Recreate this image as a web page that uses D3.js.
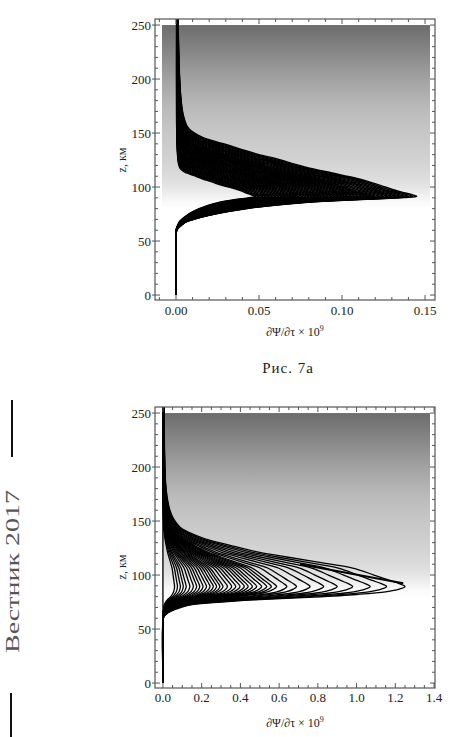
<!DOCTYPE html>
<html><head><meta charset="utf-8">
<script src="https://cdn.jsdelivr.net/npm/d3@7/dist/d3.min.js"></script>
<style>body{margin:0;background:#fff}svg{display:block}</style>
</head><body>
<script>
// ---------- data ----------
const zTicks = [0, 50, 100, 150, 200, 250];
const zMinor = [10,20,30,40,60,70,80,90,110,120,130,140,160,170,180,190,210,220,230,240];
const xTicks1 = [0, 0.05, 0.10, 0.15];
const xTickLabels1 = ["0.00", "0.05", "0.10", "0.15"];
const xMinor1 = [-0.01,0.01,0.02,0.03,0.04,0.06,0.07,0.08,0.09,0.11,0.12,0.13,0.14];
const xTicks2 = [0, 0.2, 0.4, 0.6, 0.8, 1.0, 1.2, 1.4];
const xTickLabels2 = ["0.0", "0.2", "0.4", "0.6", "0.8", "1.0", "1.2", "1.4"];
const xMinor2 = [0.05,0.1,0.15,0.25,0.3,0.35,0.45,0.5,0.55,0.65,0.7,0.75,0.85,0.9,0.95,1.05,1.1,1.15,1.25,1.3,1.35];

// outer curve of panel 7a: altitude z (km) and value
const profZ1 = [0,56,59,61,63,65,68,72,76,80,83,85.5,87.5,89,90.3,91.3,92.5,94.5,97,100,105,109,113,117,121,125,130,134,138,142,146,151,156,163,171,185,200,220,240,256];
const profX1 = [0,0,0.0002,0.0008,0.002,0.0035,0.0065,0.015,0.0265,0.042,0.058,0.076,0.098,0.118,0.137,0.145,0.143,0.138,0.132,0.126,0.116,0.106,0.094,0.082,0.072,0.063,0.05,0.041,0.033,0.024,0.016,0.010,0.0068,0.005,0.0038,0.0028,0.0022,0.0017,0.0014,0.0012];
// peak values of the curves of panel 7a
const amps1 = [0.048,0.050,0.052,0.054,0.056,0.058,0.060,0.062,0.064,0.066,0.068,0.070,0.072,0.074,0.076,0.078,0.080,0.082,0.084,0.086,0.088,0.090,0.092,0.094,0.096,0.098,0.100,0.102,0.104,0.106,0.108,0.110,0.112,0.114,0.116,0.118,0.120,0.1225,0.125,0.1275,0.130,0.1325,0.135,0.1375,0.140,0.1425,0.145];

// outer curve of panel 7b
const profZ2 = [0,58,61,63,65,68,72,75,77,79.6,82,84.5,87,89.5,92,95,100,106.5,112,116.7,121,126,130,134,139,144,152,160,172,185,210,235,256];
const profX2 = [0,0,0.004,0.012,0.025,0.06,0.13,0.3,0.47,0.78,1.0,1.15,1.22,1.25,1.22,1.17,1.09,0.98,0.80,0.64,0.50,0.38,0.29,0.21,0.14,0.09,0.055,0.036,0.022,0.014,0.009,0.007,0.006];
// peak values of the curves of panel 7b
const amps2 = [0,0.06,0.075,0.09,0.105,0.12,0.139,0.157,0.174,0.19,0.207,0.225,0.243,0.26,0.277,0.294,0.31,0.333,0.355,0.376,0.398,0.42,0.44,0.462,0.484,0.51,0.536,0.56,0.587,0.64,0.69,0.76,0.83,0.90,0.98,1.07,1.155,1.25];
// separate short stroke in panel 7b
const extraZ2 = [109.9, 92.3];
const extraX2 = [0.708, 1.241];

// background shading: altitude and grey level
const shadeZ = [250,225,200,175,150,125,105,95,86,79];
const shadeC = ["#6c6c6c","#878787","#a2a2a2","#b9b9b9","#c7c7c7","#d2d2d2","#dfdfdf","#ececec","#fafafa","#ffffff"];

const xLabel = "∂Ψ/∂τ × 10";
const zLabel = "z, км";
const caption = "Рис. 7а";
const sideText = "Вестник 2017";

// ---------- drawing ----------
const FONT = "'Liberation Serif', 'Times New Roman', serif";
const svg = d3.select("body").append("svg").attr("width",468).attr("height",737)
  .attr("font-family", FONT);
svg.append("rect").attr("width",468).attr("height",737).attr("fill","#fff");
const defs = svg.append("defs");

// upperNarrow: how much the part above the peak narrows for smaller curves
function panel(id, box, xDom, xTicks, xLabs, xMinor, profZ, profX, amps, lw, upperNarrow, yTickBase, yAxisLab, yZLab){
  const xs = d3.scaleLinear().domain(xDom).range([box.l, box.r]);
  const zs = d3.scaleLinear().domain([-4.6, 255.6]).range([box.b, box.t]);
  const g = defs.append("linearGradient").attr("id","grad"+id)
    .attr("gradientUnits","userSpaceOnUse").attr("x1",0).attr("x2",0)
    .attr("y1",zs(shadeZ[0])).attr("y2",zs(shadeZ[shadeZ.length-1]));
  const y0 = zs(shadeZ[0]), y1 = zs(shadeZ[shadeZ.length-1]);
  shadeZ.forEach((z,i)=>g.append("stop").attr("offset",(zs(z)-y0)/(y1-y0)).attr("stop-color",shadeC[i]));
  svg.append("rect").attr("x",box.l+7).attr("y",zs(250)).attr("width",box.r-box.l-12)
     .attr("height",zs(0)-zs(250)).attr("fill","url(#grad"+id+")");
  defs.append("clipPath").attr("id","clip"+id).append("rect")
     .attr("x",box.l).attr("y",box.t).attr("width",box.r-box.l).attr("height",box.b-box.t);
  const peak = d3.max(profX);
  const peakZ = profZ[profX.indexOf(peak)];
  const line = d3.line().x(d=>xs(d[0])).y(d=>zs(d[1])).curve(d3.curveCatmullRom.alpha(0.5));
  const gc = svg.append("g").attr("clip-path","url(#clip"+id+")");
  amps.forEach(a=>{
    const k = a/peak, s = Math.pow(k, upperNarrow);
    const pts = profZ.map((z,i)=>[profX[i]*k, z<=peakZ ? z : peakZ+(z-peakZ)*s]);
    if (pts[pts.length-1][1] < profZ[profZ.length-1]) pts.push([pts[pts.length-1][0], profZ[profZ.length-1]]);
    gc.append("path").attr("d",line(pts)).attr("fill","none").attr("stroke","#000").attr("stroke-width",lw);
  });
  const fc = "#555";
  svg.append("rect").attr("x",box.l).attr("y",box.t).attr("width",box.r-box.l).attr("height",box.b-box.t)
     .attr("fill","none").attr("stroke",fc).attr("stroke-width",1.2);
  const tk = svg.append("g").attr("stroke",fc).attr("stroke-width",1);
  zTicks.forEach(z=>{
    tk.append("line").attr("x1",box.l).attr("x2",box.l+5).attr("y1",zs(z)).attr("y2",zs(z));
    tk.append("line").attr("x1",box.l-3).attr("x2",box.l).attr("y1",zs(z)).attr("y2",zs(z));
    tk.append("line").attr("x1",box.r).attr("x2",box.r-5).attr("y1",zs(z)).attr("y2",zs(z));
    svg.append("text").attr("x",box.l-4).attr("y",zs(z)+4.5).attr("text-anchor","end").attr("font-size",13).attr("fill","#222").text(z);
  });
  zMinor.forEach(z=>{
    tk.append("line").attr("x1",box.l).attr("x2",box.l+3).attr("y1",zs(z)).attr("y2",zs(z));
    tk.append("line").attr("x1",box.r).attr("x2",box.r-3).attr("y1",zs(z)).attr("y2",zs(z));
  });
  xTicks.forEach((x,i)=>{
    tk.append("line").attr("x1",xs(x)).attr("x2",xs(x)).attr("y1",box.b).attr("y2",box.b-5);
    tk.append("line").attr("x1",xs(x)).attr("x2",xs(x)).attr("y1",box.t).attr("y2",box.t+5);
    svg.append("text").attr("x",xs(x)).attr("y",yTickBase).attr("text-anchor","middle").attr("font-size",13).attr("fill","#222").text(xLabs[i]);
  });
  xMinor.forEach(x=>{
    tk.append("line").attr("x1",xs(x)).attr("x2",xs(x)).attr("y1",box.b).attr("y2",box.b-3);
    tk.append("line").attr("x1",xs(x)).attr("x2",xs(x)).attr("y1",box.t).attr("y2",box.t+3);
  });
  const lab = svg.append("text").attr("x",(box.l+box.r)/2).attr("y",yAxisLab).attr("text-anchor","middle").attr("font-size",12).attr("fill","#222");
  lab.append("tspan").text(xLabel);
  lab.append("tspan").attr("dy",-5).attr("font-size",8).text("9");
  svg.append("text").attr("transform",`translate(126,${yZLab}) rotate(-90)`).attr("text-anchor","middle").attr("font-size",12).attr("fill","#222").text(zLabel);
  return {xs, zs};
}

panel(1, {l:155,r:435,t:19,b:300}, [-0.01265,0.156], xTicks1, xTickLabels1, xMinor1, profZ1, profX1, amps1, 1.5, 0.8, 315, 336, 160);
const p2 = panel(2, {l:155,r:435,t:407,b:688}, [-0.041,1.405], xTicks2, xTickLabels2, xMinor2, profZ2, profX2, amps2, 1.3, 0, 702, 727, 567);
svg.append("path").attr("d", d3.line()([[p2.xs(extraX2[0]),p2.zs(extraZ2[0])],[p2.xs(extraX2[1]),p2.zs(extraZ2[1])]]))
   .attr("stroke","#000").attr("stroke-width",2);

svg.append("text").attr("x",288).attr("y",373).attr("text-anchor","middle").attr("font-size",15).attr("letter-spacing",1).attr("fill","#222").text(caption);

// scanned page edge on the left
svg.append("line").attr("x1",12).attr("x2",12).attr("y1",400).attr("y2",457).attr("stroke","#111").attr("stroke-width",2);
svg.append("line").attr("x1",11).attr("x2",11).attr("y1",693).attr("y2",737).attr("stroke","#111").attr("stroke-width",2);
svg.append("text")
   .attr("transform","translate(19,653) rotate(-90)").attr("font-size",19)
   .attr("textLength",163).attr("lengthAdjust","spacingAndGlyphs").attr("fill","#555").text(sideText);
</script>
</body></html>
